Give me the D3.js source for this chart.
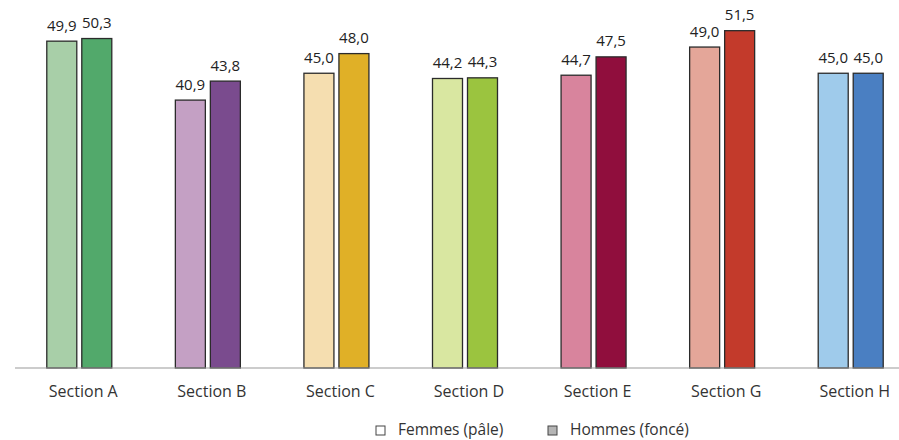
<!DOCTYPE html>
<html>
<head>
<meta charset="utf-8">
<script src="https://cdn.jsdelivr.net/npm/d3@7"></script>
<style>
  html, body { margin: 0; padding: 0; background: #fff; }
  svg { display: block; font-family: "Open Sans", Lato, sans-serif; }
</style>
</head>
<body>
<svg id="chart" width="899" height="440"></svg>
<script>
// Sections and values per group
const sections = ["Section A", "Section B", "Section C", "Section D", "Section E", "Section G", "Section H"];
const femmes = [49.9, 40.9, 45.0, 44.2, 44.7, 49.0, 45.0];
const hommes = [50.3, 43.8, 48.0, 44.3, 47.5, 51.5, 45.0];
const paleColors = ["#a8cfa8", "#c4a0c4", "#f5deb0", "#d9e7a1", "#d8849d", "#e4a699", "#9fcbeb"];
const darkColors = ["#52a96b", "#7a4b8e", "#e0b027", "#9bc43f", "#900e3d", "#c33a2b", "#4a7fc2"];
const legendLabels = ["Femmes (pâle)", "Hommes (foncé)"];

const svg = d3.select("#chart");
const baseline = 368;
const font = "'Open Sans', Lato, sans-serif";

const x = d3.scaleBand().domain(sections).range([15, 915]).padding(0);
const y = d3.scaleLinear().domain([0, 50]).range([baseline, baseline - 327.5]);

const fmt = v => v.toFixed(1).replace(".", ",");
const barW = 30, gap = 5;

const groups = svg.append("g").selectAll("g")
  .data(sections)
  .join("g")
  .attr("transform", d => `translate(${x(d) + x.bandwidth() / 2},0)`);

// bars: pale (women) left, dark (men) right
[[femmes, paleColors, -gap / 2 - barW], [hommes, darkColors, gap / 2]].forEach(([vals, cols, off]) => {
  groups.append("rect")
    .attr("x", off)
    .attr("y", (d, i) => y(vals[i]))
    .attr("width", barW)
    .attr("height", (d, i) => baseline - y(vals[i]))
    .attr("fill", (d, i) => cols[i])
    .attr("stroke", "#2b2b2b")
    .attr("stroke-width", 1.3);
  groups.append("text")
    .attr("x", off + barW / 2)
    .attr("y", (d, i) => y(vals[i]) - 10.5)
    .attr("text-anchor", "middle")
    .attr("font-size", 15)
    .attr("fill", "#222")
    .text((d, i) => fmt(vals[i]));
});

// x axis
const axis = svg.append("g")
  .attr("transform", `translate(0,${baseline})`)
  .call(d3.axisBottom(x).tickSize(0).tickPadding(18));
axis.select(".domain").attr("stroke", "#999").attr("stroke-width", 1.2)
  .attr("d", `M15,0H899`);
axis.selectAll(".tick text")
  .attr("font-family", font)
  .attr("font-size", 16)
  .attr("fill", "#333")
  .attr("dx", 4);

// legend
const legend = svg.append("g").attr("transform", "translate(0,435)");
const legendX = [376, 548];
const legendFill = ["#ffffff", "#b5b5b5"];
legendLabels.forEach((lab, i) => {
  legend.append("rect")
    .attr("x", legendX[i]).attr("y", -9)
    .attr("width", 9).attr("height", 9)
    .attr("fill", legendFill[i])
    .attr("stroke", "#444").attr("stroke-width", 1);
  legend.append("text")
    .attr("x", legendX[i] + 22).attr("y", 0)
    .attr("font-size", 15.5)
    .attr("fill", "#333")
    .text(lab);
});
</script>
</body>
</html>
